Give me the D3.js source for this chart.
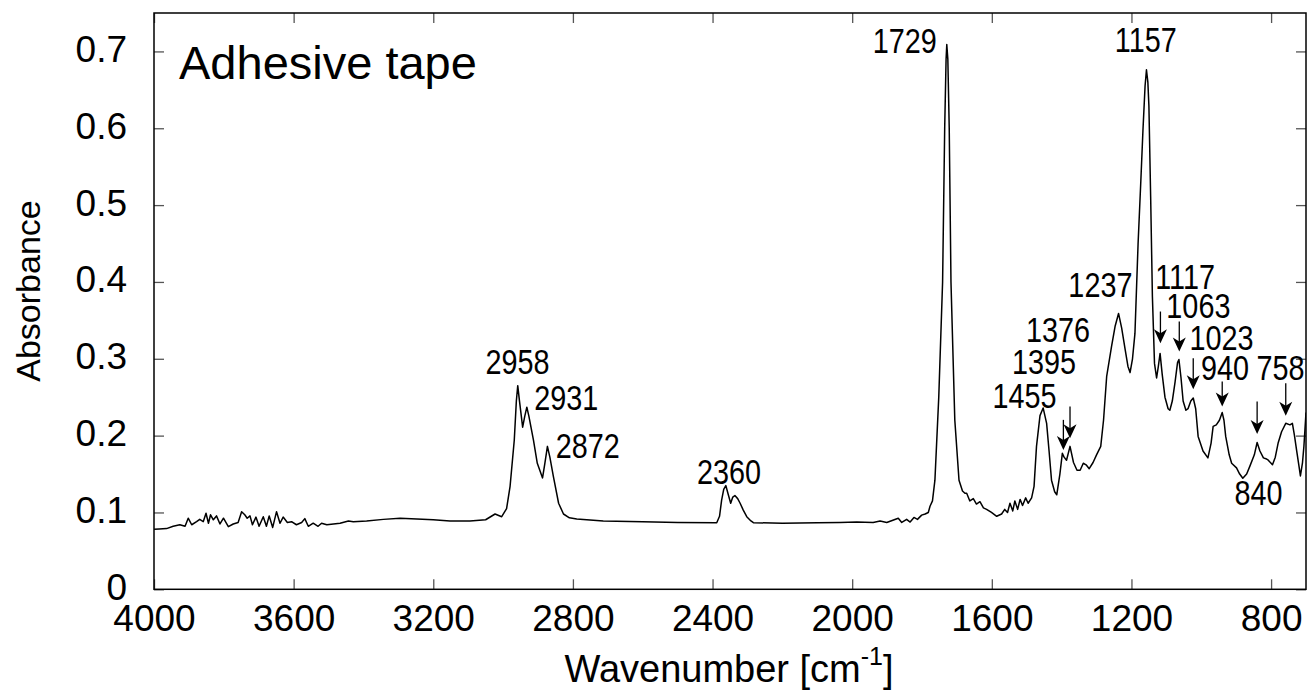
<!DOCTYPE html>
<html>
<head>
<meta charset="utf-8">
<script src="https://cdn.jsdelivr.net/npm/d3@7"></script>
<style>
  body { margin: 0; background: #fff; }
  svg text { font-family: "Liberation Sans", Arial, Helvetica, sans-serif; fill: #000; }
</style>
</head>
<body>
<svg id="vis" width="1308" height="691"></svg>
<script>
// IR spectrum of the adhesive tape [wavenumber, absorbance]
const baseline = [
  [4000, 0.078], [3985, 0.0785], [3964, 0.079], [3945, 0.082], [3926, 0.084], [3911, 0.082],
  [3902, 0.0925], [3892, 0.084], [3878, 0.088], [3869, 0.091], [3859, 0.088], [3851, 0.099],
  [3844, 0.086], [3838, 0.097], [3830, 0.0905], [3821, 0.0955], [3811, 0.085], [3801, 0.0925],
  [3787, 0.0815], [3773, 0.085], [3759, 0.087], [3749, 0.101], [3740, 0.097], [3733, 0.0925],
  [3725, 0.0955], [3718, 0.084], [3708, 0.094], [3699, 0.082], [3687, 0.0945], [3678, 0.082],
  [3670, 0.0955], [3660, 0.0805], [3649, 0.101], [3639, 0.086], [3630, 0.094], [3618, 0.087],
  [3606, 0.088], [3592, 0.084], [3577, 0.087], [3568, 0.092], [3558, 0.082], [3544, 0.086],
  [3530, 0.082], [3520, 0.086], [3505, 0.084], [3486, 0.085], [3467, 0.086], [3443, 0.089],
  [3429, 0.088], [3391, 0.089], [3343, 0.091], [3295, 0.0925], [3247, 0.0915], [3200, 0.0905],
  [3152, 0.089], [3095, 0.089], [3050, 0.0905], [3023, 0.098], [3004, 0.0945]
];
const chRegion = [
  [2990, 0.105], [2980, 0.134], [2968, 0.194], [2962, 0.245], [2958, 0.265], [2953, 0.245],
  [2944, 0.211], [2938, 0.225], [2932, 0.237], [2926, 0.225], [2913, 0.194], [2902, 0.164],
  [2887, 0.145], [2880, 0.165], [2873, 0.186], [2866, 0.172], [2856, 0.147], [2841, 0.112],
  [2827, 0.098], [2810, 0.093], [2789, 0.0915], [2713, 0.089], [2600, 0.088], [2500, 0.087],
  [2388, 0.0867], [2380, 0.095], [2374, 0.116], [2368, 0.13], [2362, 0.135], [2356, 0.125],
  [2348, 0.112], [2342, 0.12], [2336, 0.122], [2328, 0.118], [2321, 0.112], [2312, 0.103],
  [2302, 0.0945], [2290, 0.089], [2283, 0.0867], [2200, 0.086], [2100, 0.0865], [2035, 0.087],
  [1987, 0.0875], [1940, 0.087], [1920, 0.089], [1901, 0.087], [1868, 0.0925], [1858, 0.087],
  [1844, 0.091], [1834, 0.0875], [1823, 0.0935], [1813, 0.091], [1801, 0.0965], [1791, 0.098],
  [1782, 0.1]
];
const carbonyl = [
  [1777, 0.108], [1770, 0.115], [1763, 0.142], [1752, 0.25], [1741, 0.40], [1735, 0.60],
  [1731, 0.69], [1729, 0.709], [1726, 0.69], [1722, 0.60], [1717, 0.40], [1706, 0.22],
  [1694, 0.142], [1684, 0.128], [1677, 0.125], [1672, 0.125], [1663, 0.115], [1653, 0.118],
  [1644, 0.111], [1634, 0.114], [1624, 0.106], [1615, 0.104], [1601, 0.100], [1586, 0.095],
  [1572, 0.098], [1563, 0.104], [1555, 0.100], [1548, 0.112], [1540, 0.102], [1534, 0.115],
  [1526, 0.104], [1519, 0.117], [1512, 0.109], [1503, 0.119], [1496, 0.112], [1486, 0.119],
  [1479, 0.134]
];
const fingerprint = [
  [1472, 0.186], [1462, 0.226], [1453, 0.236], [1443, 0.216], [1436, 0.18], [1429, 0.142],
  [1420, 0.127], [1414, 0.123], [1405, 0.15], [1398, 0.177], [1393, 0.172], [1386, 0.168],
  [1376, 0.186], [1366, 0.165], [1356, 0.155], [1347, 0.155], [1338, 0.164], [1330, 0.162],
  [1321, 0.157], [1310, 0.165], [1300, 0.175], [1288, 0.186], [1280, 0.22], [1271, 0.277],
  [1257, 0.316], [1247, 0.342], [1237, 0.359], [1228, 0.34], [1218, 0.312], [1210, 0.29],
  [1204, 0.282], [1197, 0.30], [1190, 0.333], [1181, 0.45], [1173, 0.533], [1167, 0.598],
  [1161, 0.655], [1157, 0.676], [1153, 0.66], [1150, 0.629], [1145, 0.511], [1140, 0.381],
  [1134, 0.294], [1128, 0.275], [1123, 0.29], [1118, 0.307], [1112, 0.28], [1104, 0.25],
  [1095, 0.235], [1090, 0.233], [1083, 0.245], [1075, 0.27], [1068, 0.295], [1064, 0.299],
  [1058, 0.275], [1052, 0.245], [1044, 0.233], [1038, 0.235], [1030, 0.245], [1023, 0.249],
  [1016, 0.235], [1009, 0.199], [995, 0.18], [981, 0.171], [972, 0.19], [966, 0.212],
  [957, 0.214], [948, 0.22], [940, 0.230], [935, 0.22], [930, 0.199], [920, 0.175],
  [913, 0.164], [899, 0.158], [890, 0.15], [881, 0.1445], [870, 0.15], [861, 0.16],
  [848, 0.175], [840, 0.191], [832, 0.18], [822, 0.171], [815, 0.17], [808, 0.168],
  [796, 0.162], [788, 0.172], [780, 0.19], [770, 0.205], [758, 0.216], [746, 0.214],
  [739, 0.216], [733, 0.2], [727, 0.181], [720, 0.16], [716, 0.1475], [710, 0.165],
  [706, 0.186], [700, 0.23]
];

const xTicks = [4000, 3600, 3200, 2800, 2400, 2000, 1600, 1200, 800];
const yTicks = [0, 0.1, 0.2, 0.3, 0.4, 0.5, 0.6, 0.7];

// peak labels: text, and where the label sits (wavenumber, absorbance, anchor)
const peakLabels = ['2958', '2931', '2872', '2360', '1729', '1157', '1237', '1455', '1395', '1376',
  '1117', '1063', '1023', '940', '758', '840'];
const labelSpots = [
  [2959, 0.280, 'middle'], [2911, 0.233, 'start'], [2849, 0.171, 'start'], [2353, 0.137, 'middle'],
  [1758, 0.698, 'end'], [1159, 0.699, 'middle'], [1289, 0.380, 'middle'], [1598, 0.236, 'start'],
  [1542, 0.280, 'start'], [1502, 0.322, 'start'], [1132, 0.391, 'start'], [1100, 0.353, 'start'],
  [1034, 0.312, 'start'], [1001, 0.2725, 'start'], [842, 0.2725, 'start'], [905, 0.110, 'start']
];
// arrows: wavenumber, absorbance of tail, absorbance of tip
const arrowPeaks = [1395, 1376, 1117, 1063, 1023, 940, 840, 758];
const arrowTail = [0.2205, 0.2378, 0.3615, 0.3484, 0.3008, 0.2703, 0.2443, 0.2682];
const arrowTip = [0.1814, 0.1966, 0.3203, 0.3094, 0.2604, 0.2378, 0.2022, 0.226];

const spectrum = baseline.concat(chRegion, carbonyl, fingerprint);

const svg = d3.select('#vis');
const plotLeft = 154, plotRight = 1306, plotTop = 13, plotBottom = 589.3;

const x = d3.scaleLinear().domain([4000, 700]).range([plotLeft, plotRight]);
const y = d3.scaleLinear().domain([0, 0.75]).range([plotBottom, plotTop]);

svg.append('clipPath').attr('id', 'plot')
  .append('rect').attr('x', plotLeft).attr('y', plotTop)
  .attr('width', plotRight - plotLeft).attr('height', plotBottom - plotTop);

// axes, ticks pointing inward on all four sides
const tickStyle = g => {
  g.select('.domain').remove();
  g.selectAll('.tick line').attr('stroke', '#555').attr('stroke-width', 1.3);
};

svg.append('g')
  .attr('transform', `translate(0,${plotBottom})`)
  .call(d3.axisBottom(x).tickValues(xTicks).tickSize(-10).tickPadding(15).tickFormat(d3.format('d')))
  .call(tickStyle)
  .call(g => g.selectAll('text').attr('font-size', 37).attr('font-family', null));

svg.append('g')
  .attr('transform', `translate(0,${plotTop})`)
  .call(d3.axisTop(x).tickValues(xTicks).tickSize(-10).tickFormat(''))
  .call(tickStyle);

svg.append('g')
  .attr('transform', `translate(${plotLeft},0)`)
  .call(d3.axisLeft(y).tickValues(yTicks).tickSize(-10).tickPadding(27).tickFormat(d => d === 0 ? '0' : d3.format('.1f')(d)))
  .call(tickStyle)
  .call(g => g.selectAll('text').attr('font-size', 37).attr('font-family', null).attr('dy', '0.27em'));

svg.append('g')
  .attr('transform', `translate(${plotRight},0)`)
  .call(d3.axisRight(y).tickValues(yTicks).tickSize(-10).tickFormat(''))
  .call(tickStyle);

svg.append('rect')
  .attr('x', plotLeft).attr('y', plotTop)
  .attr('width', plotRight - plotLeft).attr('height', plotBottom - plotTop)
  .attr('fill', 'none').attr('stroke', '#000').attr('stroke-width', 1.5);

// spectrum
const line = d3.line().x(d => x(d[0])).y(d => y(d[1]));
svg.append('path')
  .datum(spectrum)
  .attr('clip-path', 'url(#plot)')
  .attr('d', line)
  .attr('fill', 'none')
  .attr('stroke', '#000')
  .attr('stroke-width', 1.5)
  .attr('stroke-linejoin', 'round');

// peak labels, condensed look by squeezing horizontally
svg.append('g').selectAll('text')
  .data(peakLabels)
  .join('text')
    .attr('transform', (d, i) => `translate(${x(labelSpots[i][0])},${y(labelSpots[i][1])}) scale(0.8,1)`)
    .attr('text-anchor', (d, i) => labelSpots[i][2])
    .attr('font-size', 36)
    .text(d => d);

// arrows
const arrows = svg.append('g').selectAll('g')
  .data(arrowPeaks)
  .join('g');

arrows.append('line')
  .attr('x1', d => x(d)).attr('x2', d => x(d))
  .attr('y1', (d, i) => y(arrowTail[i]))
  .attr('y2', (d, i) => y(arrowTip[i]) - 6)
  .attr('stroke', '#000').attr('stroke-width', 1.3);

arrows.append('path')
  .attr('transform', (d, i) => `translate(${x(d)},${y(arrowTip[i])})`)
  .attr('d', 'M0,0L-6.5,-14L0,-10L6.5,-14Z')
  .attr('fill', '#000');

// titles
svg.append('text')
  .attr('x', 179).attr('y', 79)
  .attr('font-size', 47)
  .text('Adhesive tape');

svg.append('text')
  .attr('transform', 'translate(40,291) rotate(-90)')
  .attr('text-anchor', 'middle')
  .attr('font-size', 34)
  .text('Absorbance');

const xTitle = svg.append('text')
  .attr('x', 729).attr('y', 682)
  .attr('text-anchor', 'middle')
  .attr('font-size', 38);
xTitle.append('tspan').text('Wavenumber [cm');
xTitle.append('tspan').attr('dy', -17).attr('font-size', 25).text('-1');
xTitle.append('tspan').attr('dy', 17).text(']');
</script>
</body>
</html>
